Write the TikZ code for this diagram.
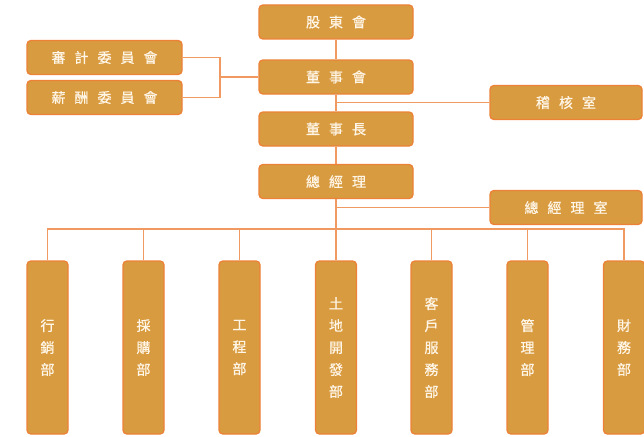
\documentclass[tikz,border=0pt]{standalone}
\usepackage{fontspec}
\newfontfamily\cjk[FakeBold=0.6]{Noto Sans CJK TC}
\definecolor{boxfill}{HTML}{D99B40}
\definecolor{boxline}{HTML}{EC8237}
\definecolor{conn}{HTML}{F09A62}
\definecolor{txt}{HTML}{FFF6E8}
\newcommand{\gp}{\hspace{9pt}}
\begin{document}
\begin{tikzpicture}[x=1pt,y=-1pt,
  hbox/.style={draw=boxline, fill=boxfill, line width=1.4pt, rounded corners=4pt,
    minimum width=154pt, minimum height=34pt, inner sep=0pt,
    font=\cjk\fontsize{14}{14}\selectfont, text=txt},
  vbox/.style={draw=boxline, fill=boxfill, line width=1.4pt, rounded corners=4pt,
    minimum width=41pt, minimum height=173pt, inner sep=0pt, align=center,
    font=\cjk\fontsize{14}{22}\selectfont, text=txt},
  cn/.style={draw=conn, line width=1.7pt}]
\useasboundingbox (0,0) rectangle (644,436);
% top chain
\node[hbox] (gd) at (336,22) {股\gp 東\gp 會};
\node[hbox] (ds) at (336,77) {董\gp 事\gp 會};
\node[hbox] (dz) at (336,129) {董\gp 事\gp 長};
\node[hbox] (gm) at (336,181.5) {總\gp 經\gp 理};
% committees
\node[hbox, minimum width=155pt] (au) at (104.5,57.5) {審\gp 計\gp 委\gp 員\gp 會};
\node[hbox, minimum width=155pt] (sa) at (104.5,97.5) {薪\gp 酬\gp 委\gp 員\gp 會};
% side offices
\node[hbox, minimum width=152pt] (ji) at (566,102.5) {稽\gp 核\gp 室};
\node[hbox, minimum width=152pt] (go) at (566,207.5) {總\gp 經\gp 理\gp 室};
% departments
\node[vbox] (d1) at (47.5,347.5) {行\\銷\\部};
\node[vbox] (d2) at (143.5,347.5) {採\\購\\部};
\node[vbox] (d3) at (239.5,347.5) {工\\程\\部};
\node[vbox] (d4) at (336,347.5) {土\\地\\開\\發\\部};
\node[vbox] (d5) at (431.5,347.5) {客\\戶\\服\\務\\部};
\node[vbox] (d6) at (527.5,347.5) {管\\理\\部};
\node[vbox] (d7) at (624,347.5) {財\\務\\部};
% connectors
\coordinate (bus) at (336,229);
\draw[cn] (gd.south) -- (ds.north);
\draw[cn] (ds.south) -- (dz.north);
\draw[cn] (dz.south) -- (gm.north);
\draw[cn] (gm.south) -- (d4.north);
\draw[cn] (ji.west) -- (ji.west -| ds.south);
\draw[cn] (go.west) -- (go.west -| gm.south);
\coordinate (br) at (220,77);
\draw[cn] (au.east) -| (br) |- (sa.east);
\draw[cn] (br) -- (ds.west);
\draw[cn] (d1.north) |- (bus) -| (d7.north);
\draw[cn] (d2.north) -- (d2.north |- bus);
\draw[cn] (d3.north) -- (d3.north |- bus);
\draw[cn] (d5.north) -- (d5.north |- bus);
\draw[cn] (d6.north) -- (d6.north |- bus);
\end{tikzpicture}
\end{document}
